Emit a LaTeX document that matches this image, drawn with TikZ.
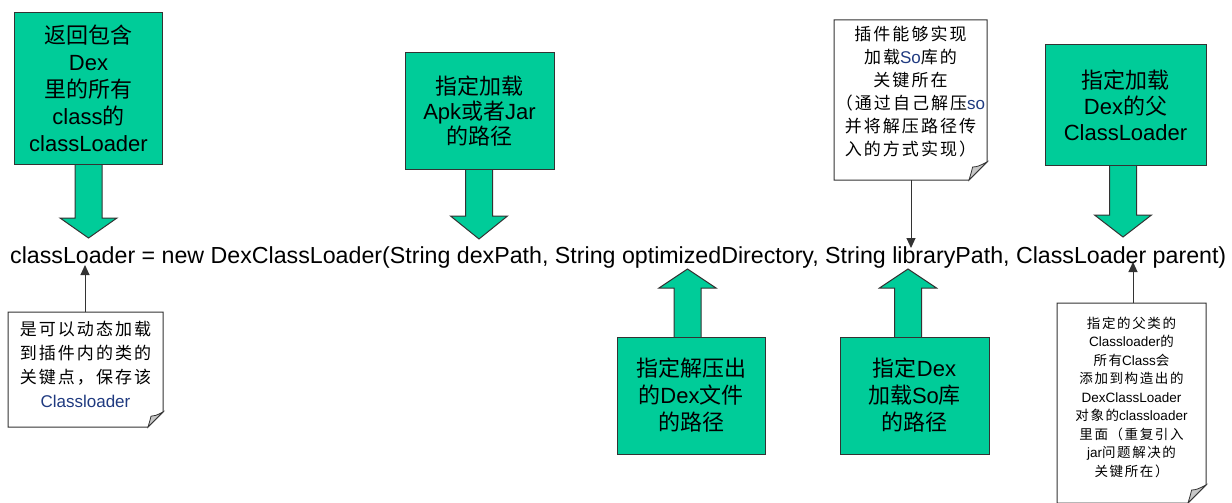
\documentclass[tikz,border=0pt]{standalone}
\usepackage{fontspec}
\setmainfont{Liberation Sans}
\newfontfamily\cjk{Noto Sans CJK SC}
\newfontfamily\cjkls[LetterSpace=12]{Noto Sans CJK SC}
\usetikzlibrary{arrows.meta}
\definecolor{boxgreen}{HTML}{00CC99}
\definecolor{navytext}{HTML}{1F3A80}
\definecolor{edgegray}{HTML}{333333}
\newcommand\zhfont{\cjk}
\newcommand\zh[1]{{\zhfont #1}}
\newcommand\downblock[4]{% x, y start, head base, tip
  \path[blockarr] ({#1-13.5},#2) -- ({#1-13.5},#3) -- ({#1-28.5},#3) -- (#1,#4) -- ({#1+28.5},#3) -- ({#1+13.5},#3) -- ({#1+13.5},#2);}
\newcommand\notepaper[5]{% x0,y0,x1,y1,fold
  \path[notepaperstyle] (#1,#2) -- (#3,#2) -- (#3,{#4-#5}) -- ({#3-#5},#4) -- (#1,#4) -- cycle;
  \path[foldstyle] (#3,{#4-#5}) -- ({#3-#5},#4) .. controls ({#3-0.85*#5},{#4-0.5*#5}) .. ({#3-0.8*#5},{#4-0.72*#5}) .. controls ({#3-0.5*#5},{#4-0.75*#5}) .. (#3,{#4-#5}) -- cycle;}
\tikzset{
  greenbox/.style={draw=edgegray, line width=1pt, fill=boxgreen, align=center, inner sep=0pt,
    font=\fontsize{22}{26}\selectfont},
  blockarr/.style={draw=edgegray, line width=1pt, fill=boxgreen},
  notepaperstyle/.style={draw=edgegray, line width=1pt, fill=white},
  foldstyle/.style={draw=edgegray, line width=0.8pt, fill=black!22},
  notetext/.style={align=center, inner sep=0pt},
  link/.style={draw=edgegray, line width=1pt, -{Triangle[width=9pt,length=10pt]}},
}
\begin{document}
\begin{tikzpicture}[x=1pt,y=-1pt]
\useasboundingbox (0,0) rectangle (1232,503);

% block arrows (drawn before boxes)
\downblock{88.5}{160}{218}{238}
\downblock{479}{165}{216}{239}
\downblock{1123}{161}{215}{237}
\downblock{687.5}{341}{288}{269}
\downblock{908}{341}{288}{269}

% green boxes
\node[greenbox, minimum width=148pt, minimum height=151pt, font=\fontsize{22}{27}\selectfont] (b1) at (88.5,88.5)
  {\zh{返回包含}\\Dex\\\zh{里的所有}\\class\zh{的}\\classLoader};
\node[greenbox, minimum width=149pt, minimum height=116pt, font=\fontsize{22}{25}\selectfont] (b2) at (479.5,111)
  {\zh{指定加载}\\Apk\zh{或者}Jar\\\zh{的路径}};
\node[greenbox, minimum width=161pt, minimum height=120pt] (b4) at (1125.5,105)
  {\zh{指定加载}\\Dex\zh{的父}\\ClassLoader};
\node[greenbox, minimum width=148pt, minimum height=117pt, font=\fontsize{22}{27}\selectfont] (b5) at (691,395.5)
  {\zh{指定解压出}\\\zh{的}Dex\zh{文件}\\\zh{的路径}};
\node[greenbox, minimum width=149pt, minimum height=117pt, font=\fontsize{22}{27}\selectfont] (b6) at (914.5,395.5)
  {\zh{指定}Dex\\\zh{加载}So\zh{库}\\\zh{的路径}};

% main call text
\node[anchor=base west, inner sep=0pt, font=\fontsize{23.2}{28}\selectfont] (call) at (10,263)
  {classLoader = new DexClassLoader(String dexPath, String optimizedDirectory, String libraryPath, ClassLoader parent)};

% notes
\notepaper{8}{312}{163}{427}{15}
\node[notetext, font=\fontsize{17}{24}\selectfont\renewcommand\zhfont{\cjkls}] (n1) at (85.5,364)
  {\zh{是可以动态加载}\\\zh{到插件内的类的}\\\zh{关键点，保存该}\\\textcolor{navytext}{Classloader}};
\notepaper{834}{20}{987}{180}{18}
\node[notetext, font=\fontsize{17}{23}\selectfont\renewcommand\zhfont{\cjkls}] (n3) at (910.5,92)
  {\zh{插件能够实现}\\\zh{加载}\textcolor{navytext}{So}\zh{库的}\\\zh{关键所在}\\\zh{（通过自己解压}\textcolor{navytext}{so}\\\zh{并将解压路径传}\\\zh{入的方式实现）}};
\notepaper{1057}{303}{1206}{503}{18}
\node[notetext, font=\fontsize{13.5}{18.5}\selectfont\renewcommand\zhfont{\cjkls}] (n4) at (1131.5,397)
  {\zh{指定的父类的}\\Classloader\zh{的}\\\zh{所有}Class\zh{会}\\\zh{添加到构造出的}\\DexClassLoader\\\zh{对象的}classloader\\\zh{里面（重复引入}\\jar\zh{问题解决的}\\\zh{关键所在）}};

% connectors
\coordinate (n1top) at (85,312);
\coordinate (t1) at (85,265);
\coordinate (n3bot) at (911,180);
\coordinate (t3) at (911,248);
\coordinate (n4top) at (1133,303);
\coordinate (t4) at (1133,262);
\draw[link] (n1top) -- (t1);
\draw[link] (n3bot) -- (t3);
\draw[link] (n4top) -- (t4);
\end{tikzpicture}
\end{document}
